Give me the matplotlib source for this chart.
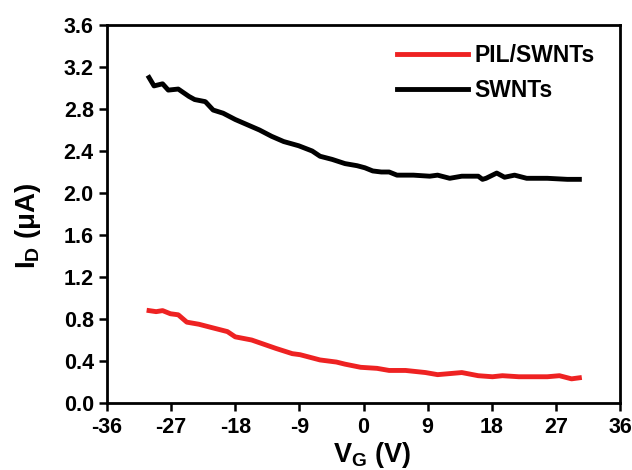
import matplotlib
matplotlib.use("Agg")
import matplotlib.pyplot as plt

plt.rcParams['font.family'] = ['Liberation Sans', 'DejaVu Sans']
plt.rcParams['font.weight'] = 'bold'
plt.rcParams['axes.labelweight'] = 'bold'
plt.rcParams['mathtext.fontset'] = 'custom'
plt.rcParams['mathtext.rm'] = 'Liberation Sans:bold'
plt.rcParams['mathtext.bf'] = 'Liberation Sans:bold'
plt.rcParams['mathtext.it'] = 'Liberation Sans:bold'

# SWNTs (black)
vg_swnt = [-30.1, -29.4, -28.2, -27.4, -26.0, -24.5, -23.7, -22.2, -21.1, -19.7,
           -18.0, -16.3, -14.6, -12.9, -11.2, -9.1, -7.2, -6.1, -4.4, -2.6,
           -0.9, 0.2, 1.3, 2.5, 3.6, 4.7, 7.0, 9.3, 10.4, 12.1,
           13.8, 16.1, 16.7, 17.2, 18.7, 19.8, 21.2, 22.9, 25.8, 28.6, 30.3]
id_swnt = [3.10, 3.02, 3.04, 2.98, 2.99, 2.92, 2.89, 2.87, 2.79, 2.76,
           2.70, 2.65, 2.60, 2.54, 2.49, 2.45, 2.40, 2.35, 2.32, 2.28,
           2.26, 2.24, 2.21, 2.20, 2.20, 2.17, 2.17, 2.16, 2.17, 2.14,
           2.16, 2.16, 2.13, 2.14, 2.19, 2.15, 2.17, 2.14, 2.14, 2.13, 2.13]

# PIL/SWNTs (red)
vg_pil = [-30.1, -29.1, -28.2, -27.1, -26.0, -24.8, -23.1, -21.4, -19.1, -18.0,
          -15.7, -14.0, -12.3, -10.0, -8.9, -6.1, -3.8, -2.6, -0.4, 1.9,
          3.6, 5.9, 8.7, 10.4, 13.8, 16.1, 18.1, 19.5, 21.8, 25.8,
          27.5, 29.2, 30.3]
id_pil = [0.88, 0.87, 0.88, 0.85, 0.84, 0.77, 0.75, 0.72, 0.68, 0.63,
          0.60, 0.56, 0.52, 0.47, 0.46, 0.41, 0.39, 0.37, 0.34, 0.33,
          0.31, 0.31, 0.29, 0.27, 0.29, 0.26, 0.25, 0.26, 0.25, 0.25,
          0.26, 0.23, 0.24]

xticks = [-36, -27, -18, -9, 0, 9, 18, 27, 36]
yticks = [0.0, 0.4, 0.8, 1.2, 1.6, 2.0, 2.4, 2.8, 3.2, 3.6]

fig = plt.figure(figsize=(6.32, 4.70), dpi=100)
ax = fig.add_axes([107/632, 1-403/470, (620-107)/632, (403-25)/470])

ax.plot(vg_pil, id_pil, color='#ee2222', lw=3.5, label='PIL/SWNTs')
ax.plot(vg_swnt, id_swnt, color='black', lw=3.5, label='SWNTs')

ax.set_xlim(-36, 36)
ax.set_ylim(0, 3.6)
ax.set_xticks(xticks)
ax.set_xticklabels([str(t) for t in xticks])
ax.set_yticks(yticks)
ax.set_yticklabels([f'{t:.1f}' for t in yticks])
ax.tick_params(direction='out', length=6, width=1.8, labelsize=15.5, top=False, right=False)
ax.tick_params(axis='x', pad=4)
for s in ax.spines.values():
    s.set_linewidth(2)

ax.set_xlabel(r'$\mathbf{V_G}$ (V)', fontsize=19.5, fontweight='bold')
ax.xaxis.set_label_coords(0.517, -0.097)
ax.set_ylabel(r'$\mathbf{I_D}$ ($\mathbf{\mu}$A)', fontsize=20, fontweight='bold')
ax.yaxis.set_label_coords(-0.125, 0.47)

leg = ax.legend(loc='upper right', frameon=False, fontsize=16.5, handlelength=3.1,
                handletextpad=0.25, labelspacing=0.5, bbox_to_anchor=(0.977, 0.985),
                borderaxespad=0.2)

fig.savefig('out.png', dpi=100)
